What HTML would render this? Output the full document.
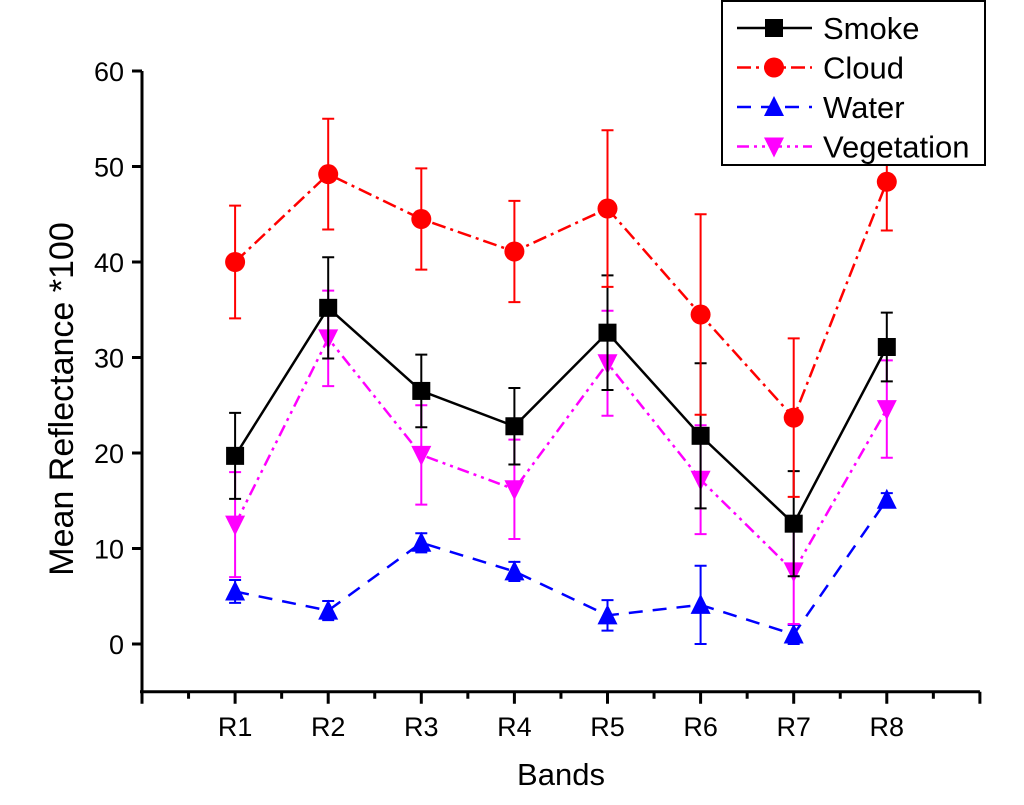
<!DOCTYPE html>
<html><head><meta charset="utf-8"><style>
body{margin:0;background:#fff;}
svg text{font-family:"Liberation Sans",Arial,sans-serif;}
</style></head><body>
<svg id="chart" width="1024" height="800" viewBox="0 0 1024 800" xmlns="http://www.w3.org/2000/svg">
<g id="axes"></g>
<g id="series"></g>
<g id="legend"></g>
<text x="561" y="785" font-size="31" text-anchor="middle">Bands</text>
<text x="73" y="399" font-size="34" text-anchor="middle" transform="rotate(-90 73 399)">Mean Reflectance *100</text>
</svg>
<script>
const categories=["R1","R2","R3","R4","R5","R6","R7","R8"];
const smoke=[19.7,35.2,26.5,22.8,32.6,21.8,12.6,31.1];
const smokeErr=[4.5,5.3,3.8,4.0,6.0,7.6,5.5,3.6];
const cloud=[40.0,49.2,44.5,41.1,45.6,34.5,23.7,48.4];
const cloudErr=[5.9,5.8,5.3,5.3,8.2,10.5,8.3,5.1];
const water=[5.5,3.5,10.6,7.6,3.0,4.1,1.0,15.1];
const waterErr=[1.2,1.0,1.0,1.0,1.6,4.1,1.0,0.7];
const veg=[12.5,32.0,19.8,16.2,29.4,17.2,7.6,24.6];
const vegErr=[5.5,5.0,5.2,5.2,5.5,5.7,5.5,5.1];
const yTicks=[0,10,20,30,40,50,60];
const NS="http://www.w3.org/2000/svg";
const X0=142,DX=93.1,Y0=644,DY=9.55;
const xs=i=>X0+(i+1)*DX;
const ys=v=>Y0-v*DY;
function mk(p,tag,attrs){const e=document.createElementNS(NS,tag);for(const k in attrs)e.setAttribute(k,attrs[k]);p.appendChild(e);return e;}
const ax=document.getElementById('axes');
let e=mk(ax,'line',{x1:X0,y1:ys(60),x2:X0,y2:ys(-5),stroke:'#000','stroke-width':3});

e=mk(ax,'line',{x1:X0-2,y1:ys(-5),x2:X0+9*DX,y2:ys(-5),stroke:'#000','stroke-width':3});

yTicks.forEach(t=>{
 let l=mk(ax,'line',{x1:X0-10,x2:X0,y1:ys(t),y2:ys(t),stroke:'#000','stroke-width':3});
 
 let tx=mk(ax,'text',{x:X0-18,y:ys(t)+10,'font-size':27,'text-anchor':'end'});tx.textContent=t;
 
});
for(let i=0;i<=18;i++){
 const x=X0+i*DX/2;const major=i%2===0;
 let l=mk(ax,'line',{x1:x,x2:x,y1:ys(-5),y2:ys(-5)+(major?12:7),stroke:'#000','stroke-width':3});
 
}
categories.forEach((c,i)=>{
 let tx=mk(ax,'text',{x:xs(i),y:ys(-5)+44,'font-size':27,'text-anchor':'middle'});tx.textContent=c;
 
});
function marker(g,type,x,y,col,s){
 let m;
 if(type==='sq')m=mk(g,'rect',{x:x-s,y:y-s,width:2*s,height:2*s,fill:col});
 else if(type==='ci')m=mk(g,'circle',{cx:x,cy:y,r:s+1,fill:col});
 else if(type==='up')m=mk(g,'polygon',{points:`${x},${y-s-2} ${x-s-1},${y+s} ${x+s+1},${y+s}`,fill:col});
 else m=mk(g,'polygon',{points:`${x},${y+s+2} ${x-s-1},${y-s} ${x+s+1},${y-s}`,fill:col});
 return m;
}
const sg=document.getElementById('series');
const defs=[
 {name:'water',vals:water,err:waterErr,col:'#0000ff',dash:'14,10',m:'up'},
 {name:'vegetation',vals:veg,err:vegErr,col:'#ff00ff',dash:'12,5,3,5,3,5',m:'dn'},
 {name:'smoke',vals:smoke,err:smokeErr,col:'#000000',dash:'',m:'sq'},
 {name:'cloud',vals:cloud,err:cloudErr,col:'#ff0000',dash:'14,5,3,5',m:'ci'}];
defs.forEach(d=>{
 const g=mk(sg,'g',{});
 
 const pts=d.vals.map((v,i)=>xs(i)+','+ys(v)).join(' ');
 let pl=mk(g,'polyline',{points:pts,fill:'none',stroke:d.col,'stroke-width':2.5,'stroke-dasharray':d.dash});
 
 d.vals.forEach((v,i)=>{
  const x=xs(i),t=ys(v+d.err[i]),b=ys(v-d.err[i]);
  let eb=mk(g,'path',{d:`M${x},${t}V${b}M${x-6},${t}H${x+6}M${x-6},${b}H${x+6}`,stroke:d.col,'stroke-width':2,fill:'none'});
  
  let m=marker(g,d.m,x,ys(v),d.col,9);
  
 });
});
const lg=document.getElementById('legend');
let box=mk(lg,'rect',{x:722,y:1,width:263,height:164,fill:'#fff',stroke:'#000','stroke-width':2});

const leg=[['Smoke','#000','','sq'],['Cloud','#ff0000','14,5,3,5','ci'],['Water','#0000ff','14,10','up'],['Vegetation','#ff00ff','12,5,3,5,3,5','dn']];
leg.forEach((l,i)=>{
 const y=28+i*39.5;
 const g=mk(lg,'g',{});
 
 mk(g,'line',{x1:737,x2:812,y1:y,y2:y,stroke:l[1],'stroke-width':2.5,'stroke-dasharray':l[2]});
 marker(g,l[3],774,y,l[1],9);
 let t=mk(g,'text',{x:823,y:y+11,'font-size':31});t.textContent=l[0];
});
</script>
</body></html>
